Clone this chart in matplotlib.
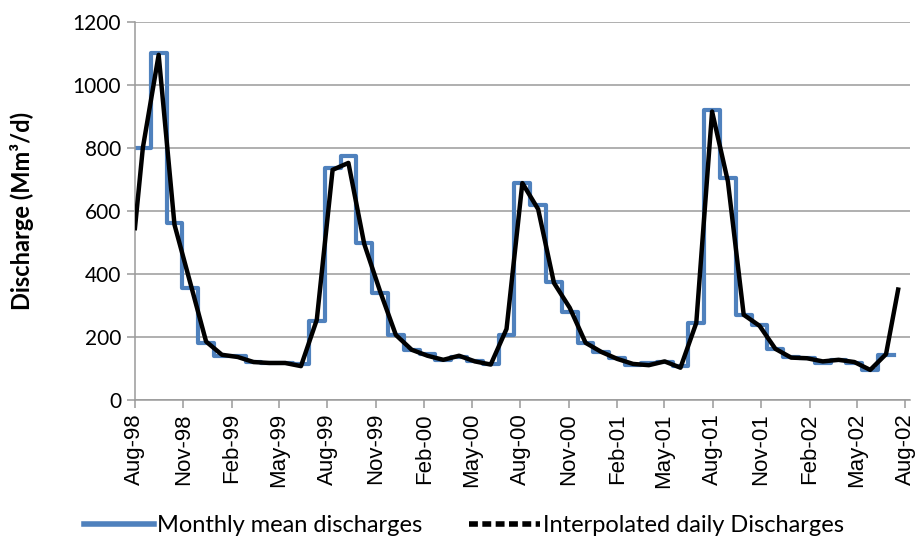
import numpy as np
import pandas as pd
import matplotlib.pyplot as plt
from matplotlib.lines import Line2D

# monthly mean discharge (Mm3/d), Aug-98 .. Jul-02
monthly = [800, 1100, 560, 355, 180, 138, 140, 121, 117, 117, 115, 250,
           735, 773, 497, 339, 206, 158, 147, 127, 137, 124, 114, 206,
           688, 618, 374, 279, 181, 153, 133, 111, 116, 120, 106, 244,
           919, 704, 270, 238, 160, 136, 132, 117, 127, 118, 95, 143]

# interpolated daily line: start value, one vertex per mid-month, end value
daily_start = 545
daily_mid = [800, 1095, 556, 371, 185, 143, 136, 120, 117, 117, 107, 254,
             730, 752, 495, 345, 206, 159, 140, 127, 140, 122, 112, 225,
             688, 605, 371, 292, 181, 152, 130, 114, 110, 122, 102, 244,
             915, 693, 270, 235, 162, 134, 132, 122, 127, 120, 95, 145]
daily_end = 350
daily_end_day = 1448

start = np.datetime64('1998-08-01')
month_len = np.timedelta64(30, 'D')

edges = start + month_len * np.arange(len(monthly) + 1)
mids = edges[:-1] + np.timedelta64(15, 'D')
daily_x = np.concatenate([[start], mids, [start + np.timedelta64(daily_end_day, 'D')]])
daily_y = [daily_start] + daily_mid + [daily_end]

tick_dates = pd.date_range('1998-08-01', '2002-08-01', freq='3MS')

blue = '#4F81BD'
grey = '#9A9A9A'

fig = plt.figure(figsize=(9.18, 5.44), dpi=100)
ax = fig.add_axes([0.147, 0.265, 0.844, 0.695])

ax.step(edges, monthly + [monthly[-1]], where='post', color=blue, lw=3.0, zorder=2)
ax.plot(daily_x, daily_y, color='black', lw=3.2, zorder=3)

ax.set_ylim(0, 1200)
ax.set_yticks(range(0, 1201, 200))
ax.set_xlim(start, np.datetime64('2002-08-10'))
ax.set_xticks(tick_dates)
ax.set_xticklabels([d.strftime('%b-%y') for d in tick_dates], rotation=90,
                   fontsize=16, family='Liberation Sans')
for lab in ax.get_yticklabels():
    lab.set_fontsize(15)
    lab.set_family('Lato')

ax.grid(axis='y', color=grey, lw=1.1)
ax.set_axisbelow(True)
for s in ['top', 'right']:
    ax.spines[s].set_visible(False)
for s in ['left', 'bottom']:
    ax.spines[s].set_color(grey)
    ax.spines[s].set_linewidth(1.1)
ax.tick_params(axis='both', direction='out', length=6, color=grey, width=1.1)
ax.tick_params(axis='y', pad=4)

ax.set_ylabel('Discharge (Mm³/d)', fontsize=17, fontweight='bold', family='Lato')
ax.yaxis.set_label_coords(-0.13, 0.5)

handles = [Line2D([], [], color=blue, lw=4),
           Line2D([], [], color='black', lw=4, ls=(0, (1.6, 0.8)))]
fig.legend(handles, ['Monthly mean discharges', 'Interpolated daily Discharges'],
           loc='lower center', bbox_to_anchor=(0.505, -0.025), ncol=2, frameon=False,
           handlelength=3.0, handletextpad=0.1, columnspacing=2.0,
           prop={'family': 'Lato', 'size': 17})

fig.savefig('out.png', dpi=100)
